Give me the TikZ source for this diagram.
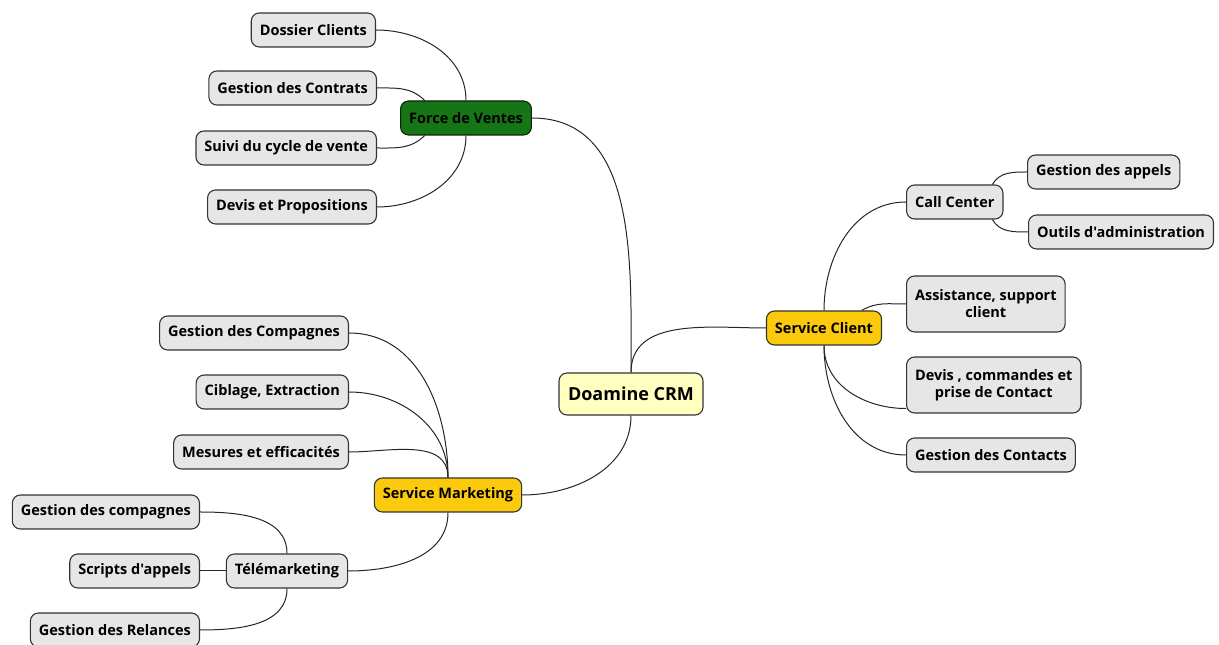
\documentclass[tikz,border=0pt]{standalone}
\usepackage{fontspec}
\setmainfont{Open Sans}[Ligatures=TeXOff]
\usepackage{tikz}
\usetikzlibrary{positioning}

\definecolor{vert}{RGB}{22,118,22}
\definecolor{jaune}{RGB}{252,202,12}
\definecolor{creme}{RGB}{255,255,192}
\definecolor{gris}{RGB}{230,230,230}

\begin{document}
\begin{tikzpicture}[x=1pt, y=1pt,
    box/.style={draw=black!80, line width=1.1pt, rounded corners=8pt,
      minimum height=34pt, inner xsep=8.5pt, inner ysep=3pt,
      font=\fontsize{14.5}{17}\selectfont\bfseries, align=center},
    leaf/.style={box, fill=gris},
    branch/.style={box, fill=jaune},
    root/.style={box, fill=creme, minimum height=42pt, inner xsep=9pt,
      font=\fontsize{18}{21}\selectfont\bfseries},
    link/.style={draw=black!85, line width=1pt}]
      \path[use as bounding box] (0, 0) rectangle (1219, 645);

      \node[root] (crm) at (631, 251) {Doamine CRM};

      % Force de Ventes
      \begin{scope}
        \node[box, fill=vert, draw=black!70!vert] (fdv) at (466, 527) {Force de Ventes};
        \node[leaf, anchor=east] (dossier) at (376, 615) {Dossier Clients};
        \node[leaf, anchor=east] (contrats) at (377, 557) {Gestion des Contrats};
        \node[leaf, anchor=east] (suivi) at (377, 497) {Suivi du cycle de vente};
        \node[leaf, anchor=east] (devprop) at (377, 438) {Devis et Propositions};
        \draw[link] (fdv.north) to[out=90, in=0] (dossier.east);
        \draw[link] (fdv.157) to[out=135, in=0] (contrats.east);
        \draw[link] (fdv.203) to[out=-135, in=0] (suivi.east);
        \draw[link] (fdv.south) to[out=-90, in=0] (devprop.east);
        \draw[link] (fdv.east) to[out=0, in=90] (crm.north);
      \end{scope}

      % Service Client
      \begin{scope}
        \node[branch] (sclient) at (824, 317) {Service Client};
        \node[leaf, anchor=west] (callc) at (906, 443) {Call Center};
        \node[leaf, anchor=west] (appels) at (1027, 473) {Gestion des appels};
        \node[leaf, anchor=west] (outils) at (1028, 413) {Outils d'administration};
        \node[leaf, anchor=west, minimum height=56pt] (assist) at (906, 341) {Assistance, support\\client};
        \node[leaf, anchor=west, minimum height=56pt] (devcmd) at (906, 260) {Devis , commandes et\\prise de Contact};
        \node[leaf, anchor=west] (contacts) at (906, 190) {Gestion des Contacts};
        \draw[link] (crm.north) to[out=90, in=180] (sclient.west);
        \draw[link] (sclient.north) to[out=90, in=180] (callc.west);
        \draw[link] (callc.25) to[out=60, in=180] (appels.west);
        \draw[link] (callc.-25) to[out=-60, in=180] (outils.west);
        \draw[link] (sclient.25) to[out=30, in=180] (assist.west);
        \draw[link] (sclient.south) to[out=-90, in=180] (devcmd.195);
        \draw[link] (sclient.south) to[out=-90, in=180] (contacts.west);
      \end{scope}

      % Service Marketing
      \begin{scope}
        \node[branch] (smkt) at (448, 150) {Service Marketing};
        \node[leaf, anchor=east] (gcomp) at (349, 312) {Gestion des Compagnes};
        \node[leaf, anchor=east] (ciblage) at (349, 253) {Ciblage, Extraction};
        \node[leaf, anchor=east] (mesures) at (349, 193) {Mesures et efficacités};
        \node[leaf] (tele) at (287, 74) {Télémarketing};
        \node[leaf, anchor=east] (gcomp2) at (200, 133) {Gestion des compagnes};
        \node[leaf, anchor=east] (scripts) at (200, 74) {Scripts d'appels};
        \node[leaf, anchor=east] (relances) at (200, 15) {Gestion des Relances};
        \draw[link] (crm.south) to[out=-90, in=0] (smkt.east);
        \foreach \n in {gcomp, ciblage, mesures}
          \draw[link] (smkt.north) to[out=90, in=0] (\n.east);
        \draw[link] (smkt.south) to[out=-90, in=0] (tele.east);
        \draw[link] (tele.north) to[out=90, in=0] (gcomp2.east);
        \draw[link] (tele.west) -- (scripts.east);
        \draw[link] (tele.south) to[out=-90, in=0] (relances.east);
      \end{scope}
\end{tikzpicture}
\end{document}
